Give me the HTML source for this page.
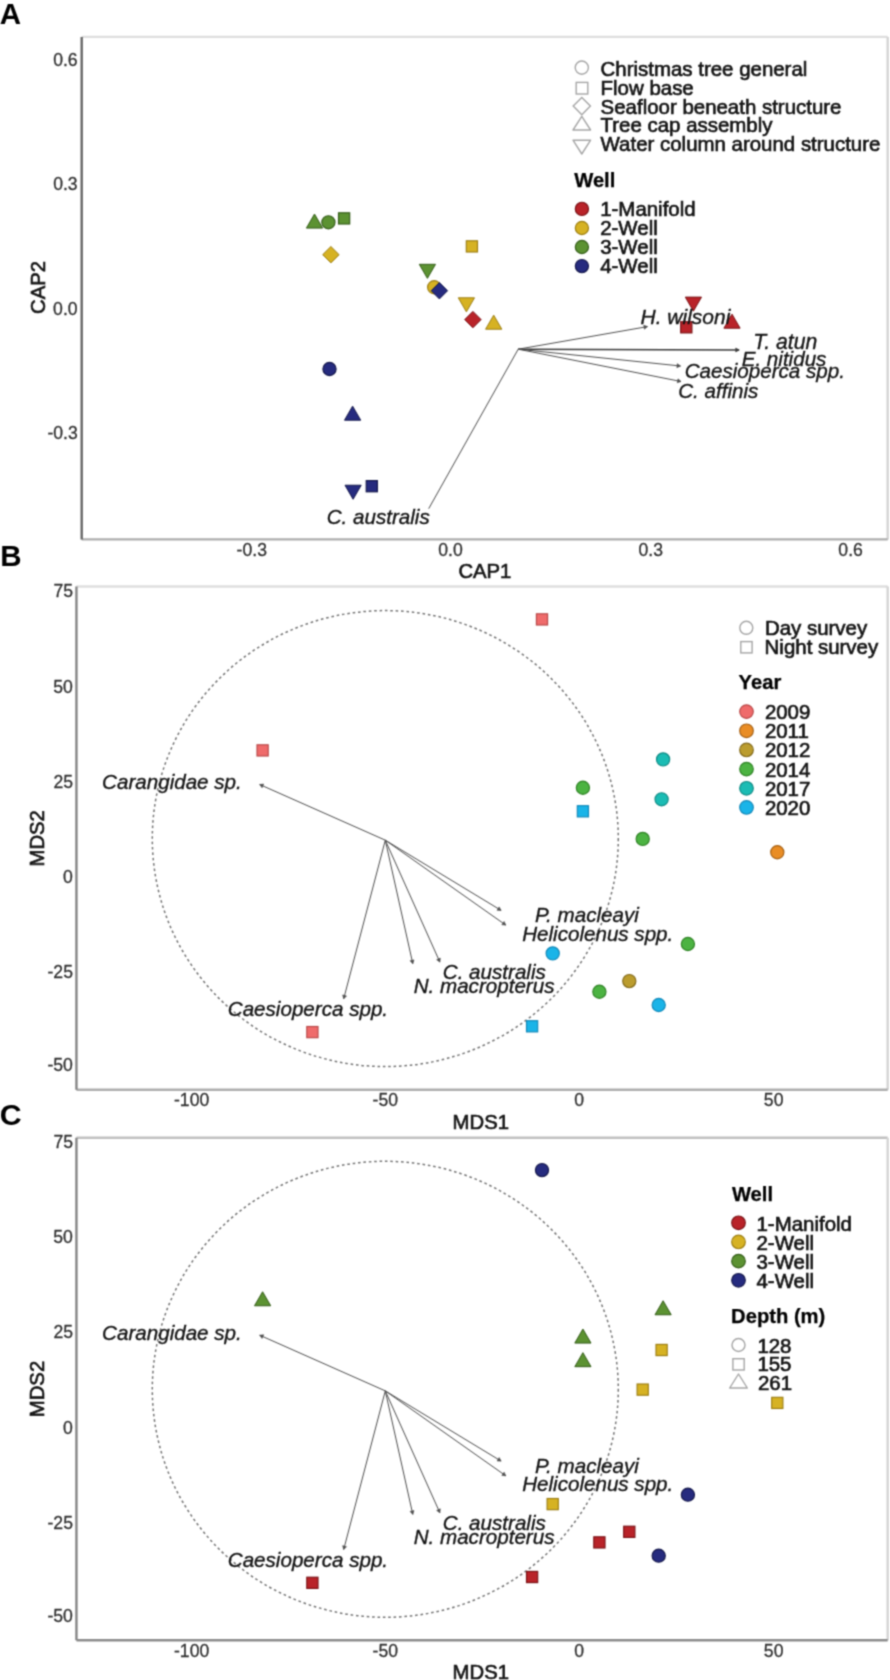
<!DOCTYPE html><html><head><meta charset="utf-8"><title>Figure</title><style>html,body{margin:0;padding:0;background:#fff;overflow:hidden;}svg{display:block;}text{font-family:"Liberation Sans",sans-serif;}</style></head><body>
<svg width="890" height="1680" viewBox="0 0 890 1680">
<defs><filter id="bl" x="0" y="0" width="890" height="1680" filterUnits="userSpaceOnUse" color-interpolation-filters="sRGB"><feConvolveMatrix order="3" kernelMatrix="0.12992 0.36045 0.12992 0.36045 1.00000 0.36045 0.12992 0.36045 0.12992" edgeMode="duplicate"/></filter></defs>
<rect width="890" height="1680" fill="#fff"/>
<g filter="url(#bl)">
<text x="-0.30" y="24.30" font-size="29.5" text-anchor="start" font-style="normal" font-weight="bold" fill="#000" stroke="#000" stroke-width="0" >A</text>
<line x1="81.7" y1="36.9" x2="887.7" y2="36.9" stroke="#dedede" stroke-width="2.4"/>
<line x1="887.7" y1="36.9" x2="887.7" y2="539.4" stroke="#d4d4d4" stroke-width="2.4"/>
<line x1="81.7" y1="539.4" x2="887.7" y2="539.4" stroke="#adadad" stroke-width="2.4"/>
<line x1="81.7" y1="36.9" x2="81.7" y2="539.4" stroke="#666666" stroke-width="2.4"/>
<text x="53.20" y="66.10" font-size="17.6" text-anchor="start" font-style="normal" font-weight="normal" fill="#303030" stroke="#303030" stroke-width="0.3" >0.6</text>
<text x="53.20" y="190.30" font-size="17.6" text-anchor="start" font-style="normal" font-weight="normal" fill="#303030" stroke="#303030" stroke-width="0.3" >0.3</text>
<text x="53.10" y="315.30" font-size="17.6" text-anchor="start" font-style="normal" font-weight="normal" fill="#303030" stroke="#303030" stroke-width="0.3" >0.0</text>
<text x="47.40" y="439.30" font-size="17.6" text-anchor="start" font-style="normal" font-weight="normal" fill="#303030" stroke="#303030" stroke-width="0.3" >-0.3</text>
<text x="236.60" y="555.60" font-size="17.6" text-anchor="start" font-style="normal" font-weight="normal" fill="#303030" stroke="#303030" stroke-width="0.3" >-0.3</text>
<text x="438.30" y="555.60" font-size="17.6" text-anchor="start" font-style="normal" font-weight="normal" fill="#303030" stroke="#303030" stroke-width="0.3" >0.0</text>
<text x="638.55" y="555.60" font-size="17.6" text-anchor="start" font-style="normal" font-weight="normal" fill="#303030" stroke="#303030" stroke-width="0.3" >0.3</text>
<text x="838.35" y="555.60" font-size="17.6" text-anchor="start" font-style="normal" font-weight="normal" fill="#303030" stroke="#303030" stroke-width="0.3" >0.6</text>
<text x="458.40" y="577.50" font-size="20.3" text-anchor="start" font-style="normal" font-weight="normal" fill="#141414" stroke="#141414" stroke-width="0.65" >CAP1</text>
<text x="0" y="0" font-size="20.3" text-anchor="middle" fill="#141414" stroke="#141414" stroke-width="0.65" transform="translate(44.7 287.4) rotate(-90)">CAP2</text>
<line x1="518.20" y1="349.20" x2="647.50" y2="326.60" stroke="#4e4e4e" stroke-width="1.0" />
<path d="M644.43 329.17L647.50 326.60L643.74 325.23Z" fill="#4e4e4e" stroke="#4e4e4e" stroke-width="0.6"/>
<line x1="518.20" y1="349.20" x2="739.20" y2="350.00" stroke="#3a3a3a" stroke-width="1.5" />
<path d="M735.73 351.99L739.20 350.00L735.74 347.99Z" fill="#3a3a3a" stroke="#3a3a3a" stroke-width="0.6"/>
<line x1="518.20" y1="349.20" x2="680.50" y2="366.00" stroke="#4e4e4e" stroke-width="1.0" />
<path d="M676.85 367.63L680.50 366.00L677.26 363.65Z" fill="#4e4e4e" stroke="#4e4e4e" stroke-width="0.6"/>
<line x1="518.20" y1="349.20" x2="681.00" y2="381.50" stroke="#4e4e4e" stroke-width="1.0" />
<path d="M677.21 382.79L681.00 381.50L677.99 378.86Z" fill="#4e4e4e" stroke="#4e4e4e" stroke-width="0.6"/>
<line x1="518.20" y1="349.20" x2="428.70" y2="508.70" stroke="#4e4e4e" stroke-width="1.0" />
<path d="M314.50 214.05L322.60 228.08L306.40 228.08Z" fill="#5c9232" stroke="#335c18" stroke-width="1" stroke-linejoin="round"/>
<circle cx="328.40" cy="222.30" r="6.6" fill="#5c9232" stroke="#335c18" stroke-width="1.15"/>
<rect x="338.50" y="212.80" width="11.2" height="11.2" fill="#5c9232" stroke="#335c18" stroke-width="1.15"/>
<path d="M427.40 278.35L435.50 264.32L419.30 264.32Z" fill="#5c9232" stroke="#335c18" stroke-width="1" stroke-linejoin="round"/>
<path d="M330.90 246.50L339.10 254.70L330.90 262.90L322.70 254.70Z" fill="#d6b223" stroke="#9c7e12" stroke-width="1"/>
<rect x="466.30" y="240.80" width="11.2" height="11.2" fill="#d6b223" stroke="#9c7e12" stroke-width="1.15"/>
<circle cx="434.20" cy="287.30" r="6.6" fill="#d6b223" stroke="#9c7e12" stroke-width="1.15"/>
<path d="M439.40 282.50L447.60 290.70L439.40 298.90L431.20 290.70Z" fill="#262b7f" stroke="#14174a" stroke-width="1"/>
<path d="M466.40 311.85L474.50 297.82L458.30 297.82Z" fill="#d6b223" stroke="#9c7e12" stroke-width="1" stroke-linejoin="round"/>
<path d="M493.70 315.15L501.80 329.18L485.60 329.18Z" fill="#d6b223" stroke="#9c7e12" stroke-width="1" stroke-linejoin="round"/>
<path d="M472.90 311.40L481.10 319.60L472.90 327.80L464.70 319.60Z" fill="#b92329" stroke="#7a1216" stroke-width="1"/>
<circle cx="329.50" cy="369.00" r="6.6" fill="#262b7f" stroke="#14174a" stroke-width="1.15"/>
<path d="M352.60 406.15L360.70 420.18L344.50 420.18Z" fill="#262b7f" stroke="#14174a" stroke-width="1" stroke-linejoin="round"/>
<path d="M353.10 499.25L361.20 485.22L345.00 485.22Z" fill="#262b7f" stroke="#14174a" stroke-width="1" stroke-linejoin="round"/>
<rect x="366.20" y="480.60" width="11.2" height="11.2" fill="#262b7f" stroke="#14174a" stroke-width="1.15"/>
<path d="M693.40 311.15L701.50 297.12L685.30 297.12Z" fill="#b92329" stroke="#7a1216" stroke-width="1" stroke-linejoin="round"/>
<rect x="680.70" y="321.70" width="11.2" height="11.2" fill="#b92329" stroke="#7a1216" stroke-width="1.15"/>
<path d="M732.00 314.15L740.10 328.18L723.90 328.18Z" fill="#b92329" stroke="#7a1216" stroke-width="1" stroke-linejoin="round"/>
<text x="640.50" y="323.90" font-size="21.0" text-anchor="start" font-style="italic" font-weight="normal" fill="#141414" stroke="#141414" stroke-width="0.35" >H. wilsoni</text>
<text x="753.20" y="348.80" font-size="21.200000000000003" text-anchor="start" font-style="italic" font-weight="normal" fill="#141414" stroke="#141414" stroke-width="0.35" >T. atun</text>
<text x="741.70" y="365.80" font-size="20.6" text-anchor="start" font-style="italic" font-weight="normal" fill="#141414" stroke="#141414" stroke-width="0.35" >E. nitidus</text>
<text x="684.70" y="378.20" font-size="20.6" text-anchor="start" font-style="italic" font-weight="normal" fill="#141414" stroke="#141414" stroke-width="0.35" >Caesioperca spp.</text>
<text x="678.20" y="398.40" font-size="20.6" text-anchor="start" font-style="italic" font-weight="normal" fill="#141414" stroke="#141414" stroke-width="0.35" >C. affinis</text>
<text x="326.70" y="523.60" font-size="20.6" text-anchor="start" font-style="italic" font-weight="normal" fill="#141414" stroke="#141414" stroke-width="0.35" >C. australis</text>
<circle cx="581.8" cy="67.6" r="6.6" fill="none" stroke="#a6a6a6" stroke-width="1.4"/>
<rect x="576.2" y="82.4" width="11.6" height="11.6" fill="none" stroke="#a6a6a6" stroke-width="1.4"/>
<path d="M581.80 97.50L590.40 106.10L581.80 114.70L573.20 106.10Z" fill="none" stroke="#a6a6a6" stroke-width="1.4"/>
<path d="M581.80 116.30L590.60 130.00L573.00 130.00Z" fill="none" stroke="#a6a6a6" stroke-width="1.4" stroke-linejoin="round"/>
<path d="M581.80 154.00L590.60 140.20L573.00 140.20Z" fill="none" stroke="#a6a6a6" stroke-width="1.4" stroke-linejoin="round"/>
<text x="600.60" y="75.70" font-size="20.45" text-anchor="start" font-style="normal" font-weight="normal" fill="#141414" stroke="#141414" stroke-width="0.65" >Christmas tree general</text>
<text x="600.60" y="94.63" font-size="20.45" text-anchor="start" font-style="normal" font-weight="normal" fill="#141414" stroke="#141414" stroke-width="0.65" >Flow base</text>
<text x="600.60" y="113.56" font-size="20.45" text-anchor="start" font-style="normal" font-weight="normal" fill="#141414" stroke="#141414" stroke-width="0.65" >Seafloor beneath structure</text>
<text x="600.60" y="132.49" font-size="20.45" text-anchor="start" font-style="normal" font-weight="normal" fill="#141414" stroke="#141414" stroke-width="0.65" >Tree cap assembly</text>
<text x="600.60" y="151.42" font-size="20.45" text-anchor="start" font-style="normal" font-weight="normal" fill="#141414" stroke="#141414" stroke-width="0.65" >Water column around structure</text>
<text x="574.20" y="187.00" font-size="20.2" text-anchor="start" font-style="normal" font-weight="bold" fill="#000" stroke="#000" stroke-width="0.25" >Well</text>
<circle cx="581.90" cy="208.90" r="6.6" fill="#b92329" stroke="#7a1216" stroke-width="1.15"/>
<text x="600.20" y="216.00" font-size="20.45" text-anchor="start" font-style="normal" font-weight="normal" fill="#141414" stroke="#141414" stroke-width="0.65" >1-Manifold</text>
<circle cx="581.90" cy="227.97" r="6.6" fill="#d6b223" stroke="#9c7e12" stroke-width="1.15"/>
<text x="600.20" y="235.00" font-size="20.45" text-anchor="start" font-style="normal" font-weight="normal" fill="#141414" stroke="#141414" stroke-width="0.65" >2-Well</text>
<circle cx="581.90" cy="247.04" r="6.6" fill="#5c9232" stroke="#335c18" stroke-width="1.15"/>
<text x="600.20" y="254.00" font-size="20.45" text-anchor="start" font-style="normal" font-weight="normal" fill="#141414" stroke="#141414" stroke-width="0.65" >3-Well</text>
<circle cx="581.90" cy="266.11" r="6.6" fill="#262b7f" stroke="#14174a" stroke-width="1.15"/>
<text x="600.20" y="273.00" font-size="20.45" text-anchor="start" font-style="normal" font-weight="normal" fill="#141414" stroke="#141414" stroke-width="0.65" >4-Well</text>
<text x="0.20" y="566.00" font-size="29.5" text-anchor="start" font-style="normal" font-weight="bold" fill="#000" stroke="#000" stroke-width="0" >B</text>
<line x1="76.45" y1="586.5" x2="887.7" y2="586.5" stroke="#dedede" stroke-width="2.4"/>
<line x1="887.7" y1="586.5" x2="887.7" y2="1089.7" stroke="#d4d4d4" stroke-width="2.4"/>
<line x1="76.45" y1="1089.7" x2="887.7" y2="1089.7" stroke="#adadad" stroke-width="2.4"/>
<line x1="76.45" y1="586.5" x2="76.45" y2="1089.7" stroke="#858585" stroke-width="2.4"/>
<text x="53.40" y="597.30" font-size="17.6" text-anchor="start" font-style="normal" font-weight="normal" fill="#303030" stroke="#303030" stroke-width="0.3" >75</text>
<text x="53.30" y="692.70" font-size="17.6" text-anchor="start" font-style="normal" font-weight="normal" fill="#303030" stroke="#303030" stroke-width="0.3" >50</text>
<text x="53.40" y="787.70" font-size="17.6" text-anchor="start" font-style="normal" font-weight="normal" fill="#303030" stroke="#303030" stroke-width="0.3" >25</text>
<text x="63.10" y="882.90" font-size="17.6" text-anchor="start" font-style="normal" font-weight="normal" fill="#303030" stroke="#303030" stroke-width="0.3" >0</text>
<text x="47.50" y="977.90" font-size="17.6" text-anchor="start" font-style="normal" font-weight="normal" fill="#303030" stroke="#303030" stroke-width="0.3" >-25</text>
<text x="47.40" y="1071.00" font-size="17.6" text-anchor="start" font-style="normal" font-weight="normal" fill="#303030" stroke="#303030" stroke-width="0.3" >-50</text>
<text x="174.00" y="1106.40" font-size="17.6" text-anchor="start" font-style="normal" font-weight="normal" fill="#303030" stroke="#303030" stroke-width="0.3" >-100</text>
<text x="372.55" y="1106.40" font-size="17.6" text-anchor="start" font-style="normal" font-weight="normal" fill="#303030" stroke="#303030" stroke-width="0.3" >-50</text>
<text x="574.35" y="1106.40" font-size="17.6" text-anchor="start" font-style="normal" font-weight="normal" fill="#303030" stroke="#303030" stroke-width="0.3" >0</text>
<text x="763.85" y="1106.40" font-size="17.6" text-anchor="start" font-style="normal" font-weight="normal" fill="#303030" stroke="#303030" stroke-width="0.3" >50</text>
<text x="452.60" y="1128.50" font-size="20.3" text-anchor="start" font-style="normal" font-weight="normal" fill="#141414" stroke="#141414" stroke-width="0.65" >MDS1</text>
<text x="0" y="0" font-size="20.3" text-anchor="middle" fill="#141414" stroke="#141414" stroke-width="0.65" transform="translate(43.5 838.3) rotate(-90)">MDS2</text>
<ellipse cx="385.3" cy="838.6" rx="233" ry="228" fill="none" stroke="#747474" stroke-width="1.5" stroke-dasharray="2.6 2.8"/>
<line x1="385.30" y1="840.20" x2="259.70" y2="784.50" stroke="#4e4e4e" stroke-width="1.0" />
<path d="M263.68 784.08L259.70 784.50L262.06 787.73Z" fill="#4e4e4e" stroke="#4e4e4e" stroke-width="0.6"/>
<line x1="385.30" y1="840.20" x2="501.10" y2="910.40" stroke="#4e4e4e" stroke-width="1.0" />
<path d="M497.10 910.31L501.10 910.40L499.17 906.89Z" fill="#4e4e4e" stroke="#4e4e4e" stroke-width="0.6"/>
<line x1="385.30" y1="840.20" x2="505.80" y2="925.10" stroke="#4e4e4e" stroke-width="1.0" />
<path d="M501.82 924.74L505.80 925.10L504.12 921.47Z" fill="#4e4e4e" stroke="#4e4e4e" stroke-width="0.6"/>
<line x1="385.30" y1="840.20" x2="343.70" y2="998.80" stroke="#4e4e4e" stroke-width="1.0" />
<path d="M342.64 994.94L343.70 998.80L346.51 995.96Z" fill="#4e4e4e" stroke="#4e4e4e" stroke-width="0.6"/>
<line x1="385.30" y1="840.20" x2="412.80" y2="963.70" stroke="#4e4e4e" stroke-width="1.0" />
<path d="M410.09 960.75L412.80 963.70L414.00 959.88Z" fill="#4e4e4e" stroke="#4e4e4e" stroke-width="0.6"/>
<line x1="385.30" y1="840.20" x2="439.90" y2="962.10" stroke="#4e4e4e" stroke-width="1.0" />
<path d="M436.66 959.76L439.90 962.10L440.31 958.12Z" fill="#4e4e4e" stroke="#4e4e4e" stroke-width="0.6"/>
<text x="102.10" y="788.80" font-size="20.6" text-anchor="start" font-style="italic" font-weight="normal" fill="#141414" stroke="#141414" stroke-width="0.35" >Carangidae sp.</text>
<text x="535.00" y="922.00" font-size="20.6" text-anchor="start" font-style="italic" font-weight="normal" fill="#141414" stroke="#141414" stroke-width="0.35" >P. macleayi</text>
<text x="522.20" y="940.50" font-size="20.6" text-anchor="start" font-style="italic" font-weight="normal" fill="#141414" stroke="#141414" stroke-width="0.35" >Helicolenus spp.</text>
<text x="442.80" y="979.30" font-size="20.6" text-anchor="start" font-style="italic" font-weight="normal" fill="#141414" stroke="#141414" stroke-width="0.35" >C. australis</text>
<text x="413.70" y="993.40" font-size="20.6" text-anchor="start" font-style="italic" font-weight="normal" fill="#141414" stroke="#141414" stroke-width="0.35" >N. macropterus</text>
<text x="227.80" y="1016.40" font-size="20.6" text-anchor="start" font-style="italic" font-weight="normal" fill="#141414" stroke="#141414" stroke-width="0.35" >Caesioperca spp.</text>
<rect x="536.40" y="613.80" width="11.2" height="11.2" fill="#ef6b6b" stroke="#b84848" stroke-width="1.15"/>
<rect x="257.00" y="744.80" width="11.2" height="11.2" fill="#ef6b6b" stroke="#b84848" stroke-width="1.15"/>
<circle cx="663.10" cy="759.40" r="6.6" fill="#1bbcb4" stroke="#0f8a84" stroke-width="1.15"/>
<circle cx="582.90" cy="787.70" r="6.6" fill="#4cb342" stroke="#2f8225" stroke-width="1.15"/>
<circle cx="661.60" cy="799.30" r="6.6" fill="#1bbcb4" stroke="#0f8a84" stroke-width="1.15"/>
<rect x="577.30" y="805.70" width="11.2" height="11.2" fill="#1ab4e8" stroke="#1288b8" stroke-width="1.15"/>
<circle cx="642.70" cy="838.90" r="6.6" fill="#4cb342" stroke="#2f8225" stroke-width="1.15"/>
<circle cx="777.30" cy="852.20" r="6.6" fill="#e98d25" stroke="#a55f12" stroke-width="1.15"/>
<circle cx="552.70" cy="953.40" r="6.6" fill="#1ab4e8" stroke="#1288b8" stroke-width="1.15"/>
<circle cx="687.90" cy="944.00" r="6.6" fill="#4cb342" stroke="#2f8225" stroke-width="1.15"/>
<circle cx="629.30" cy="981.10" r="6.6" fill="#bb9c2e" stroke="#82691a" stroke-width="1.15"/>
<circle cx="599.40" cy="991.70" r="6.6" fill="#4cb342" stroke="#2f8225" stroke-width="1.15"/>
<circle cx="658.70" cy="1005.00" r="6.6" fill="#1ab4e8" stroke="#1288b8" stroke-width="1.15"/>
<rect x="526.50" y="1020.70" width="11.2" height="11.2" fill="#1ab4e8" stroke="#1288b8" stroke-width="1.15"/>
<rect x="306.80" y="1026.50" width="11.2" height="11.2" fill="#ef6b6b" stroke="#b84848" stroke-width="1.15"/>
<circle cx="746.3" cy="627.8" r="6.5" fill="none" stroke="#a6a6a6" stroke-width="1.4"/>
<rect x="740.8" y="641.6" width="11.3" height="11.3" fill="none" stroke="#a6a6a6" stroke-width="1.4"/>
<text x="764.90" y="635.40" font-size="20.45" text-anchor="start" font-style="normal" font-weight="normal" fill="#141414" stroke="#141414" stroke-width="0.65" >Day survey</text>
<text x="764.60" y="654.20" font-size="20.45" text-anchor="start" font-style="normal" font-weight="normal" fill="#141414" stroke="#141414" stroke-width="0.65" >Night survey</text>
<text x="738.60" y="689.40" font-size="20.2" text-anchor="start" font-style="normal" font-weight="bold" fill="#000" stroke="#000" stroke-width="0.25" >Year</text>
<circle cx="746.50" cy="711.60" r="6.8" fill="#ef6b6b" stroke="#b84848" stroke-width="1.15"/>
<text x="764.90" y="719.10" font-size="20.45" text-anchor="start" font-style="normal" font-weight="normal" fill="#141414" stroke="#141414" stroke-width="0.65" >2009</text>
<circle cx="746.50" cy="730.77" r="6.8" fill="#e98d25" stroke="#a55f12" stroke-width="1.15"/>
<text x="764.90" y="738.27" font-size="20.45" text-anchor="start" font-style="normal" font-weight="normal" fill="#141414" stroke="#141414" stroke-width="0.65" >2011</text>
<circle cx="746.50" cy="749.94" r="6.8" fill="#bb9c2e" stroke="#82691a" stroke-width="1.15"/>
<text x="764.90" y="757.44" font-size="20.45" text-anchor="start" font-style="normal" font-weight="normal" fill="#141414" stroke="#141414" stroke-width="0.65" >2012</text>
<circle cx="746.50" cy="769.11" r="6.8" fill="#4cb342" stroke="#2f8225" stroke-width="1.15"/>
<text x="764.90" y="776.61" font-size="20.45" text-anchor="start" font-style="normal" font-weight="normal" fill="#141414" stroke="#141414" stroke-width="0.65" >2014</text>
<circle cx="746.50" cy="788.28" r="6.8" fill="#1bbcb4" stroke="#0f8a84" stroke-width="1.15"/>
<text x="764.90" y="795.78" font-size="20.45" text-anchor="start" font-style="normal" font-weight="normal" fill="#141414" stroke="#141414" stroke-width="0.65" >2017</text>
<circle cx="746.50" cy="807.45" r="6.8" fill="#1ab4e8" stroke="#1288b8" stroke-width="1.15"/>
<text x="764.90" y="814.95" font-size="20.45" text-anchor="start" font-style="normal" font-weight="normal" fill="#141414" stroke="#141414" stroke-width="0.65" >2020</text>
<text x="-0.20" y="1124.60" font-size="30.3" text-anchor="start" font-style="normal" font-weight="bold" fill="#000" stroke="#000" stroke-width="0" >C</text>
<line x1="76.45" y1="1137.8" x2="887.7" y2="1137.8" stroke="#c0c0c0" stroke-width="2.4"/>
<line x1="887.7" y1="1137.8" x2="887.7" y2="1640.2" stroke="#d4d4d4" stroke-width="2.4"/>
<line x1="76.45" y1="1640.2" x2="887.7" y2="1640.2" stroke="#8b8b8b" stroke-width="2.4"/>
<line x1="76.45" y1="1137.8" x2="76.45" y2="1640.2" stroke="#858585" stroke-width="2.4"/>
<text x="53.40" y="1148.00" font-size="17.6" text-anchor="start" font-style="normal" font-weight="normal" fill="#303030" stroke="#303030" stroke-width="0.3" >75</text>
<text x="53.30" y="1243.40" font-size="17.6" text-anchor="start" font-style="normal" font-weight="normal" fill="#303030" stroke="#303030" stroke-width="0.3" >50</text>
<text x="53.40" y="1338.40" font-size="17.6" text-anchor="start" font-style="normal" font-weight="normal" fill="#303030" stroke="#303030" stroke-width="0.3" >25</text>
<text x="63.10" y="1433.60" font-size="17.6" text-anchor="start" font-style="normal" font-weight="normal" fill="#303030" stroke="#303030" stroke-width="0.3" >0</text>
<text x="47.50" y="1528.60" font-size="17.6" text-anchor="start" font-style="normal" font-weight="normal" fill="#303030" stroke="#303030" stroke-width="0.3" >-25</text>
<text x="47.40" y="1621.70" font-size="17.6" text-anchor="start" font-style="normal" font-weight="normal" fill="#303030" stroke="#303030" stroke-width="0.3" >-50</text>
<text x="174.00" y="1657.10" font-size="17.6" text-anchor="start" font-style="normal" font-weight="normal" fill="#303030" stroke="#303030" stroke-width="0.3" >-100</text>
<text x="372.55" y="1657.10" font-size="17.6" text-anchor="start" font-style="normal" font-weight="normal" fill="#303030" stroke="#303030" stroke-width="0.3" >-50</text>
<text x="574.35" y="1657.10" font-size="17.6" text-anchor="start" font-style="normal" font-weight="normal" fill="#303030" stroke="#303030" stroke-width="0.3" >0</text>
<text x="763.85" y="1657.10" font-size="17.6" text-anchor="start" font-style="normal" font-weight="normal" fill="#303030" stroke="#303030" stroke-width="0.3" >50</text>
<text x="452.60" y="1679.20" font-size="20.3" text-anchor="start" font-style="normal" font-weight="normal" fill="#141414" stroke="#141414" stroke-width="0.65" >MDS1</text>
<text x="0" y="0" font-size="20.3" text-anchor="middle" fill="#141414" stroke="#141414" stroke-width="0.65" transform="translate(43.5 1389.0) rotate(-90)">MDS2</text>
<ellipse cx="385.3" cy="1389.3000000000002" rx="233" ry="228" fill="none" stroke="#747474" stroke-width="1.5" stroke-dasharray="2.6 2.8"/>
<line x1="385.30" y1="1390.90" x2="259.70" y2="1335.20" stroke="#4e4e4e" stroke-width="1.0" />
<path d="M263.68 1334.78L259.70 1335.20L262.06 1338.43Z" fill="#4e4e4e" stroke="#4e4e4e" stroke-width="0.6"/>
<line x1="385.30" y1="1390.90" x2="501.10" y2="1461.10" stroke="#4e4e4e" stroke-width="1.0" />
<path d="M497.10 1461.01L501.10 1461.10L499.17 1457.59Z" fill="#4e4e4e" stroke="#4e4e4e" stroke-width="0.6"/>
<line x1="385.30" y1="1390.90" x2="505.80" y2="1475.80" stroke="#4e4e4e" stroke-width="1.0" />
<path d="M501.82 1475.44L505.80 1475.80L504.12 1472.17Z" fill="#4e4e4e" stroke="#4e4e4e" stroke-width="0.6"/>
<line x1="385.30" y1="1390.90" x2="343.70" y2="1549.50" stroke="#4e4e4e" stroke-width="1.0" />
<path d="M342.64 1545.64L343.70 1549.50L346.51 1546.66Z" fill="#4e4e4e" stroke="#4e4e4e" stroke-width="0.6"/>
<line x1="385.30" y1="1390.90" x2="412.80" y2="1514.40" stroke="#4e4e4e" stroke-width="1.0" />
<path d="M410.09 1511.45L412.80 1514.40L414.00 1510.58Z" fill="#4e4e4e" stroke="#4e4e4e" stroke-width="0.6"/>
<line x1="385.30" y1="1390.90" x2="439.90" y2="1512.80" stroke="#4e4e4e" stroke-width="1.0" />
<path d="M436.66 1510.46L439.90 1512.80L440.31 1508.82Z" fill="#4e4e4e" stroke="#4e4e4e" stroke-width="0.6"/>
<text x="102.10" y="1339.50" font-size="20.6" text-anchor="start" font-style="italic" font-weight="normal" fill="#141414" stroke="#141414" stroke-width="0.35" >Carangidae sp.</text>
<text x="535.00" y="1472.70" font-size="20.6" text-anchor="start" font-style="italic" font-weight="normal" fill="#141414" stroke="#141414" stroke-width="0.35" >P. macleayi</text>
<text x="522.20" y="1491.20" font-size="20.6" text-anchor="start" font-style="italic" font-weight="normal" fill="#141414" stroke="#141414" stroke-width="0.35" >Helicolenus spp.</text>
<text x="442.80" y="1530.00" font-size="20.6" text-anchor="start" font-style="italic" font-weight="normal" fill="#141414" stroke="#141414" stroke-width="0.35" >C. australis</text>
<text x="413.70" y="1544.10" font-size="20.6" text-anchor="start" font-style="italic" font-weight="normal" fill="#141414" stroke="#141414" stroke-width="0.35" >N. macropterus</text>
<text x="227.80" y="1567.10" font-size="20.6" text-anchor="start" font-style="italic" font-weight="normal" fill="#141414" stroke="#141414" stroke-width="0.35" >Caesioperca spp.</text>
<circle cx="542.00" cy="1170.10" r="6.6" fill="#262b7f" stroke="#14174a" stroke-width="1.15"/>
<path d="M262.60 1291.75L270.70 1305.78L254.50 1305.78Z" fill="#5c9232" stroke="#335c18" stroke-width="1" stroke-linejoin="round"/>
<path d="M663.10 1300.75L671.20 1314.78L655.00 1314.78Z" fill="#5c9232" stroke="#335c18" stroke-width="1" stroke-linejoin="round"/>
<path d="M582.90 1329.05L591.00 1343.08L574.80 1343.08Z" fill="#5c9232" stroke="#335c18" stroke-width="1" stroke-linejoin="round"/>
<rect x="656.00" y="1344.40" width="11.2" height="11.2" fill="#d6b223" stroke="#9c7e12" stroke-width="1.15"/>
<path d="M582.90 1352.65L591.00 1366.68L574.80 1366.68Z" fill="#5c9232" stroke="#335c18" stroke-width="1" stroke-linejoin="round"/>
<rect x="637.10" y="1384.00" width="11.2" height="11.2" fill="#d6b223" stroke="#9c7e12" stroke-width="1.15"/>
<rect x="771.70" y="1397.30" width="11.2" height="11.2" fill="#d6b223" stroke="#9c7e12" stroke-width="1.15"/>
<rect x="547.10" y="1498.50" width="11.2" height="11.2" fill="#d6b223" stroke="#9c7e12" stroke-width="1.15"/>
<circle cx="687.90" cy="1494.70" r="6.6" fill="#262b7f" stroke="#14174a" stroke-width="1.15"/>
<rect x="623.70" y="1526.20" width="11.2" height="11.2" fill="#b92329" stroke="#7a1216" stroke-width="1.15"/>
<rect x="593.80" y="1536.80" width="11.2" height="11.2" fill="#b92329" stroke="#7a1216" stroke-width="1.15"/>
<circle cx="658.70" cy="1555.70" r="6.6" fill="#262b7f" stroke="#14174a" stroke-width="1.15"/>
<rect x="526.50" y="1571.40" width="11.2" height="11.2" fill="#b92329" stroke="#7a1216" stroke-width="1.15"/>
<rect x="306.80" y="1577.20" width="11.2" height="11.2" fill="#b92329" stroke="#7a1216" stroke-width="1.15"/>
<text x="731.90" y="1201.20" font-size="20.2" text-anchor="start" font-style="normal" font-weight="bold" fill="#000" stroke="#000" stroke-width="0.25" >Well</text>
<circle cx="738.50" cy="1222.80" r="6.8" fill="#b92329" stroke="#7a1216" stroke-width="1.15"/>
<text x="756.50" y="1230.70" font-size="20.45" text-anchor="start" font-style="normal" font-weight="normal" fill="#141414" stroke="#141414" stroke-width="0.65" >1-Manifold</text>
<circle cx="738.50" cy="1241.97" r="6.8" fill="#d6b223" stroke="#9c7e12" stroke-width="1.15"/>
<text x="756.50" y="1249.87" font-size="20.45" text-anchor="start" font-style="normal" font-weight="normal" fill="#141414" stroke="#141414" stroke-width="0.65" >2-Well</text>
<circle cx="738.50" cy="1261.14" r="6.8" fill="#5c9232" stroke="#335c18" stroke-width="1.15"/>
<text x="756.50" y="1269.04" font-size="20.45" text-anchor="start" font-style="normal" font-weight="normal" fill="#141414" stroke="#141414" stroke-width="0.65" >3-Well</text>
<circle cx="738.50" cy="1280.31" r="6.8" fill="#262b7f" stroke="#14174a" stroke-width="1.15"/>
<text x="756.50" y="1288.21" font-size="20.45" text-anchor="start" font-style="normal" font-weight="normal" fill="#141414" stroke="#141414" stroke-width="0.65" >4-Well</text>
<text x="731.10" y="1323.30" font-size="20.2" text-anchor="start" font-style="normal" font-weight="bold" fill="#000" stroke="#000" stroke-width="0.25" >Depth (m)</text>
<circle cx="738.5" cy="1345" r="6.5" fill="none" stroke="#a6a6a6" stroke-width="1.4"/>
<rect x="732.9" y="1358.7" width="11.3" height="11.3" fill="none" stroke="#a6a6a6" stroke-width="1.4"/>
<path d="M738.50 1374.00L747.30 1388.00L729.70 1388.00Z" fill="none" stroke="#a6a6a6" stroke-width="1.4" stroke-linejoin="round"/>
<text x="757.40" y="1352.50" font-size="20.45" text-anchor="start" font-style="normal" font-weight="normal" fill="#141414" stroke="#141414" stroke-width="0.65" >128</text>
<text x="757.40" y="1371.35" font-size="20.45" text-anchor="start" font-style="normal" font-weight="normal" fill="#141414" stroke="#141414" stroke-width="0.65" >155</text>
<text x="758.00" y="1390.20" font-size="20.45" text-anchor="start" font-style="normal" font-weight="normal" fill="#141414" stroke="#141414" stroke-width="0.65" >261</text>
</g>
</svg></body></html>
